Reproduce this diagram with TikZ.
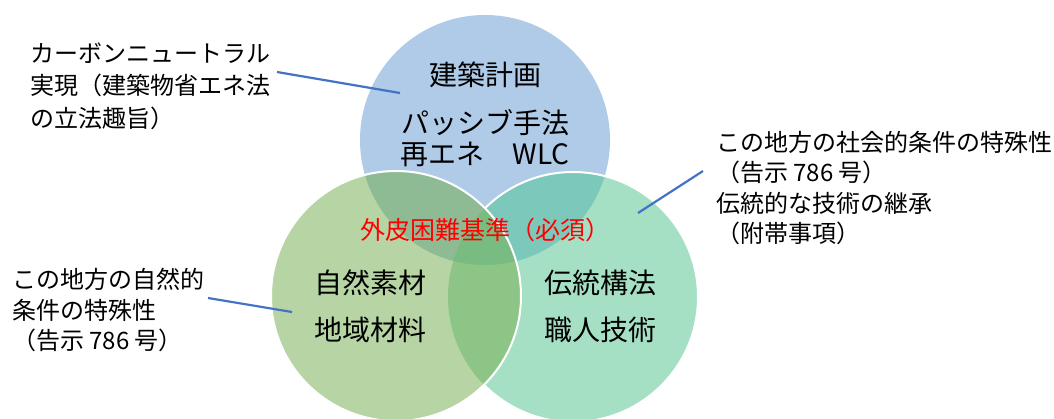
\documentclass[tikz,border=0pt]{standalone}
\usepackage{fontspec}
\setmainfont{Noto Sans CJK JP}
\begin{document}
\begin{tikzpicture}[x=1pt,y=-1pt,
  lbl/.style={anchor=west,align=left,inner sep=0pt,font=\fontsize{24}{31}\selectfont},
  ctext/.style={align=center,inner sep=0pt,font=\fontsize{28}{32}\selectfont},
  conn/.style={draw=linkblue,line width=2.2pt},
  rim/.style={draw=white,line width=2pt}]
\definecolor{cblue}{HTML}{AFCBE8}
\definecolor{cgreen}{HTML}{B7D5A4}
\definecolor{cteal}{HTML}{A5E0C5}
\definecolor{cbg}{HTML}{8EBB94}
\definecolor{cbt}{HTML}{7CC8BA}
\definecolor{cgt}{HTML}{8CC586}
\definecolor{cbgt}{HTML}{79BC81}
\definecolor{linkblue}{HTML}{4472C4}
\useasboundingbox (0,0) rectangle (1054,419);
\coordinate (B) at (485,140);
\coordinate (G) at (396,296);
\coordinate (T) at (573,297);
\def\R{125pt}
% blue
\fill[cblue] (B) circle (\R);
% teal
\fill[cteal] (T) circle (\R);
\begin{scope}
  \clip (B) circle (\R);
  \fill[cbt] (T) circle (\R);
\end{scope}
\draw[rim] (T) circle (\R);
% green
\fill[cgreen] (G) circle (\R);
\begin{scope}
  \clip (G) circle (\R);
  \fill[cbg] (B) circle (\R);
  \fill[cgt] (T) circle (\R);
  \clip (B) circle (\R);
  \fill[cbgt] (T) circle (\R);
\end{scope}
\draw[rim] (G) circle (\R);
% circle texts
\node[ctext] (b1) at (485,75) {建築計画};
\node[ctext] (b2) at (485,123) {パッシブ手法};
\node[ctext] (b3) at (485,154) {再エネ　WLC};
\node[ctext,text=red,font=\fontsize{25}{30}\selectfont] (red) at (485,230) {外皮困難基準（必須）};
\node[ctext] (g1) at (370,283) {自然素材};
\node[ctext] (g2) at (370,330) {地域材料};
\node[ctext] (t1) at (600,283) {伝統構法};
\node[ctext] (t2) at (600,330) {職人技術};
% labels
\node[lbl,font=\fontsize{24}{32.5}\selectfont] (L1) at (30,86) {カーボンニュートラル\\実現（建築物省エネ法\\の立法趣旨）};
\node[lbl,font=\fontsize{24}{30.5}\selectfont] (L2) at (716,188) {この地方の社会的条件の特殊性\\（告示 786 号）\\伝統的な技術の継承\\（附帯事項）};
\node[lbl,font=\fontsize{24}{30.5}\selectfont] (L3) at (12,310) {この地方の自然的\\条件の特殊性\\（告示 786 号）};
% connectors
\coordinate (c1a) at (277,72);
\coordinate (c1b) at (400,93);
\coordinate (c2a) at (703,171);
\coordinate (c2b) at (638,213);
\coordinate (c3a) at (208,298);
\coordinate (c3b) at (292,312);
\draw[conn] (c1a) -- (c1b);
\draw[conn] (c2a) -- (c2b);
\draw[conn] (c3a) -- (c3b);
\end{tikzpicture}
\end{document}
